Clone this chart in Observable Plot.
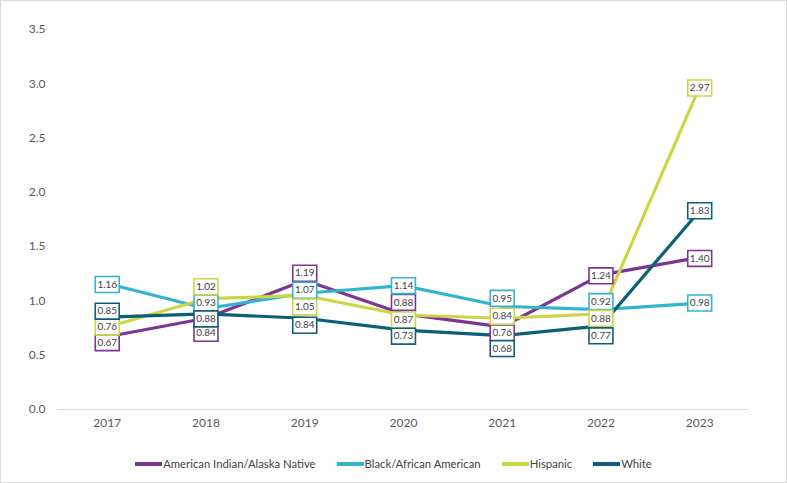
<!DOCTYPE html>
<html>
<head>
<meta charset="utf-8">
<script src="https://cdn.jsdelivr.net/npm/d3@7"></script>
<script src="https://cdn.jsdelivr.net/npm/@observablehq/plot@0.6"></script>
<style>
  html, body { margin: 0; padding: 0; background: #fff; }
  #wrap { position: relative; width: 787px; height: 483px; box-sizing: border-box; border: 1px solid #d9d9d9; font-family: Lato, "Open Sans", sans-serif; }
  #chart svg { display: block; position: absolute; left: -1px; top: -1px; }
  #legend { position: absolute; left: 0; right: 0; top: 454px; display: flex; justify-content: center; gap: 21px; font-size: 11.3px; color: #404040; line-height: 18px; }
  .item { display: flex; align-items: center; }
  .sw { width: 27px; height: 4px; margin-right: 1px; }
</style>
</head>
<body>
<div id="wrap">
  <div id="chart"></div>
  <div id="legend"></div>
</div>
<script>
// ---- data ----
const years = [2017, 2018, 2019, 2020, 2021, 2022, 2023];
const seriesNames = ["American Indian/Alaska Native", "Black/African American", "Hispanic", "White"];
const aian     = [0.67, 0.84, 1.19, 0.88, 0.76, 1.24, 1.40];
const black    = [1.16, 0.93, 1.07, 1.14, 0.95, 0.92, 0.98];
const hispanic = [0.76, 1.02, 1.05, 0.87, 0.84, 0.88, 2.97];
const white    = [0.85, 0.88, 0.84, 0.73, 0.68, 0.77, 1.83];
const yTicks = [0, 0.5, 1.0, 1.5, 2.0, 2.5, 3.0, 3.5];

// ---- styling / layout ----
const colors = ["#7E3495", "#33B4CE", "#CCD546", "#0C5F77"];
// label nudges in pixels (positive = down) to avoid overlapping boxes
const labelNudgePx = [
  [6, 15, -7, -11.5, 6, 1, 1],
  [1, -5.5, -3, 0, -8, -8, 0],
  [0, -12, 11.5, 5, -2, 4.5, 1],
  [-6, 5, 7, 6, 13, 10, 0]
];

const W = 787, H = 440, mt = 29, mb = 30, ml = 57, mr = 37;
const yMax = 3.5;
const pxPerUnit = (H - mt - mb) / yMax;

const allValues = [aian, black, hispanic, white];
const rows = [];
allValues.forEach((vals, s) => {
  vals.forEach((v, i) => rows.push({
    series: seriesNames[s], s, year: String(years[i]), value: v,
    labelY: v - labelNudgePx[s][i] / pxPerUnit
  }));
});

const boxSymbol = { draw(ctx) { ctx.rect(-12, -8, 24, 16); } };

const marks = [
  Plot.ruleY([0], { stroke: "#d9d9d9", strokeWidth: 1 }),
  Plot.axisY({ ticks: yTicks, tickFormat: d3.format(".1f"), tickSize: 0, tickPadding: 12, fontSize: 12, fill: "#595959", label: null }),
  Plot.axisX({ tickSize: 0, tickPadding: 9, fontSize: 12, fill: "#595959", label: null })
];
seriesNames.forEach((name, s) => {
  marks.push(Plot.line(rows.filter(d => d.s === s), { x: "year", y: "value", stroke: colors[s], strokeWidth: 3.2, curve: "linear" }));
});
seriesNames.forEach((name, s) => {
  const d = rows.filter(r => r.s === s);
  marks.push(Plot.dot(d, { x: "year", y: "labelY", symbol: boxSymbol, fill: "white", stroke: colors[s], strokeWidth: 1.6 }));
  marks.push(Plot.text(d, { x: "year", y: "labelY", text: r => d3.format(".2f")(r.value), fontSize: 10, fill: "#404040", fontFamily: "Lato, sans-serif" }));
});

const chart = Plot.plot({
  width: W, height: H,
  marginTop: mt, marginBottom: mb, marginLeft: ml, marginRight: mr,
  style: { fontFamily: "Lato, 'Open Sans', sans-serif", background: "transparent" },
  x: { type: "point", domain: years.map(String), padding: 0.5 },
  y: { domain: [0, yMax] },
  marks
});
document.getElementById("chart").appendChild(chart);

const legend = document.getElementById("legend");
seriesNames.forEach((name, s) => {
  const it = document.createElement("div");
  it.className = "item";
  const sw = document.createElement("span");
  sw.className = "sw";
  sw.style.background = colors[s];
  const tx = document.createElement("span");
  tx.textContent = name;
  it.appendChild(sw); it.appendChild(tx);
  legend.appendChild(it);
});
</script>
</body>
</html>
